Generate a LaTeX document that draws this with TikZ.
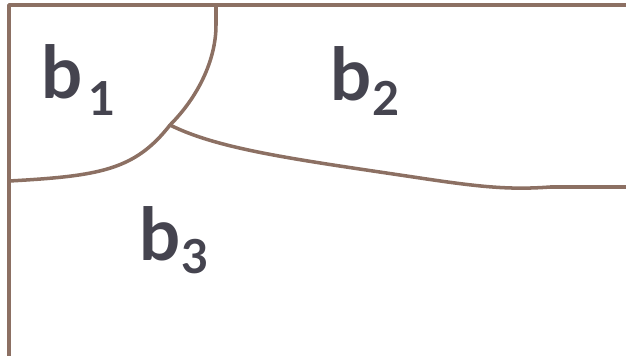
\documentclass[tikz,border=0pt]{standalone}
\usepackage{fontspec}
\setmainfont{Lato}
\usepackage{tikz}
\usetikzlibrary{positioning, calc}
\definecolor{edgebrown}{HTML}{8C7063}
\definecolor{labelgrey}{HTML}{45444F}
\tikzset{
    region_edge/.style={draw=edgebrown, line width=3pt, line cap=round, line join=round},
    region_label/.style={anchor=base west, inner sep=0pt, text=labelgrey, font=\fontsize{62}{62}\bfseries\selectfont},
    region_sub/.style={anchor=base west, inner sep=0pt, text=labelgrey, font=\fontsize{40}{40}\bfseries\selectfont}
}

\begin{document}
\begin{tikzpicture}[x=0.03cm, y=-0.03cm]
			\useasboundingbox (0,0) rectangle (626,355);
			\coordinate (corner) at (9,5);
			\coordinate (tr) at (630,5);
			\coordinate (bl) at (9,360);
			\coordinate (top) at (216,5);
			\coordinate (meet) at (170,125);
			\coordinate (left) at (9,181);
			\coordinate (right) at (630,187);
			
			% outer edges
			\draw [region_edge] (bl) -- (corner) -- (tr);
			% b1 boundary
			\draw [region_edge] (top) -- (216,25) .. controls (216,60) and (198,97) .. (meet)
				.. controls (135,170) and (100,176) .. (left);
			% b2 / b3 boundary
			\draw [region_edge] (meet) .. controls (220,150) and (300,160) .. (420,178)
				.. controls (480,187) and (510,190) .. (550,187) -- (right);
			
			\node (b1) [region_label] at (41,98) {b};
			\node (s1) [region_sub] at ($(b1.base east)+(6,17)$) {1};
			\node (b2) [region_label] at (330,100) {b};
			\node (s2) [region_sub] at ($(b2.base east)+(1,15)$) {2};
			\node (b3) [region_label] at (139,260) {b};
			\node (s3) [region_sub] at ($(b3.base east)+(1,13)$) {3};
		\end{tikzpicture}
\end{document}
